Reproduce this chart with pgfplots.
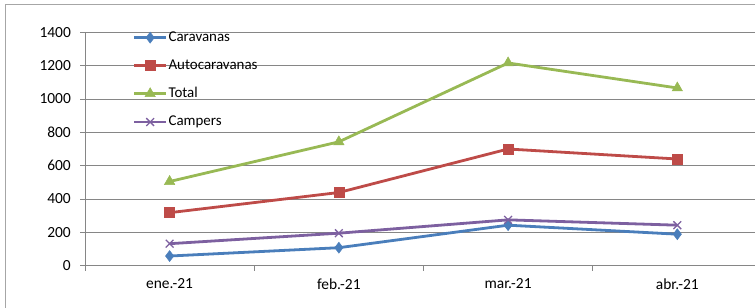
\documentclass[border=0pt]{standalone}
\usepackage{pgfplots}
\pgfplotsset{compat=1.18}
\usepackage{fontspec}
\setmainfont{Carlito}
\definecolor{cblue}{HTML}{4A7EBB}
\definecolor{cred}{HTML}{BE4B48}
\definecolor{cgreen}{HTML}{98B954}
\definecolor{cpurple}{HTML}{7D60A0}
\definecolor{axgray}{HTML}{868686}
\begin{document}
\fontsize{15}{18}\selectfont
\begin{tikzpicture}
\begin{axis}[
  at={(85bp,42.3bp)}, anchor=south west,
  scale only axis, width=670bp, height=233.4bp,
  xmin=-0.5, xmax=3.459, ymin=0, ymax=1400,
  axis x line*=bottom, axis y line*=left,
  axis line style={axgray, line width=0.9bp},
  ytick={0,200,...,1400},
  ymajorgrids, grid style={axgray, line width=0.8bp},
  tick style={axgray, line width=0.8bp},
  major tick length=5bp,
  tick align=outside,
  xtick={-0.5,0.5,1.5,2.5},
  xticklabels={},
  extra x ticks={0,1,2,3},
  extra x tick labels={ene.-21,feb.-21,mar.-21,abr.-21},
  extra x tick style={major tick length=0pt, grid=none},
  xticklabel style={yshift=-8bp},
  yticklabel style={xshift=-4bp},
  /pgf/number format/assume math mode=true,
  /pgf/number format/1000 sep={},
  ticklabel style={font=\fontsize{15.5}{18}\selectfont, text=black},
  legend style={draw=none, fill=none, at={(axis description cs:0.071,1.012)}, anchor=north west,
    font=\fontsize{15}{18}\selectfont, row sep=12bp, inner sep=0pt,
    /tikz/every even column/.append style={column sep=0pt},
    nodes={inner xsep=1bp}},
  legend cell align=left,
  legend image code/.code={
    \draw[#1, mark repeat=2, mark phase=2] plot coordinates {(0bp,0bp)(16bp,0bp)(32bp,0bp)};
  },
  clip=false,
]
\addplot[cblue, line width=2.8bp, mark=diamond*, mark size=5.5bp, mark options={line width=0.5bp}] coordinates {(0,58) (1,108) (2,243) (3,189)};
\addlegendentry{Caravanas}
\addplot[cred, line width=2.8bp, mark=square*, mark size=5bp, mark options={line width=0.5bp}] coordinates {(0,318) (1,439) (2,700) (3,640)};
\addlegendentry{Autocaravanas}
\addplot[cgreen, line width=2.8bp, mark=triangle*, mark size=6bp, mark options={line width=0.5bp}] coordinates {(0,505) (1,743) (2,1216) (3,1066)};
\addlegendentry{Total}
\addplot[cpurple, line width=2.8bp, mark=x, mark size=5.5bp, mark options={line width=1.3bp}] coordinates {(0,132) (1,195) (2,275) (3,243)};
\addlegendentry{Campers}
\end{axis}
\draw[gray!70, line width=0.9bp] (5.5bp,0bp) -- (5.5bp,304bp) -- (755bp,304bp);
\pgfresetboundingbox
\path (0bp,0bp) rectangle (755bp,308bp);
\end{tikzpicture}
\end{document}
